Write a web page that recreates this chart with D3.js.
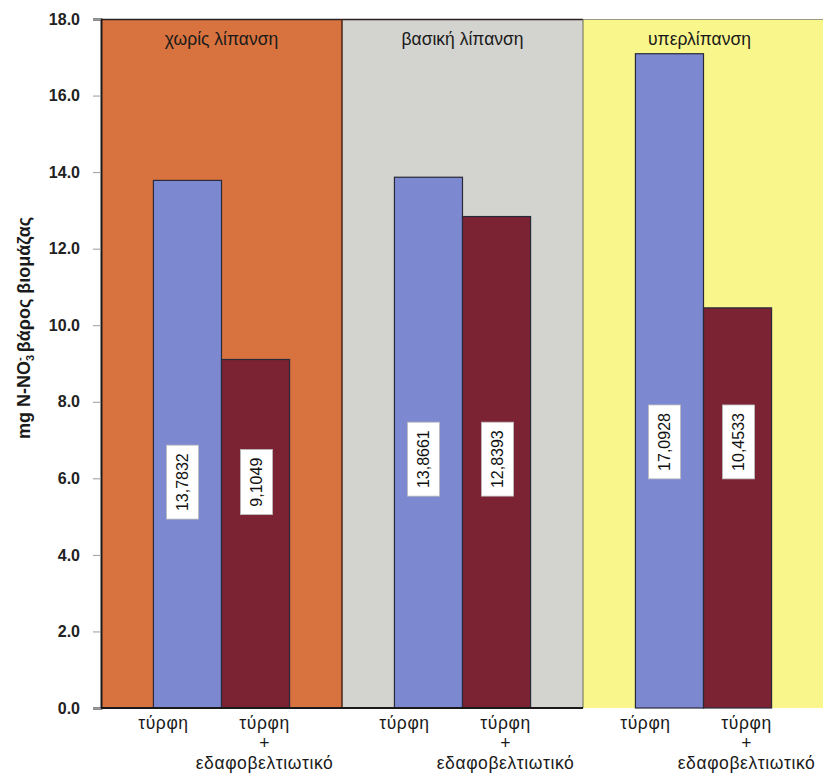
<!DOCTYPE html>
<html>
<head>
<meta charset="utf-8">
<script src="https://cdn.jsdelivr.net/npm/d3@7"></script>
<style>
  html, body { margin: 0; padding: 0; background: #ffffff; }
  svg { display: block; font-family: "Liberation Sans", Arial, sans-serif; }
</style>
</head>
<body>
<svg id="chart" width="823" height="777"></svg>
<script>
// Fertilisation regimes (panels) and substrate treatments (bars)
const groups = ["χωρίς λίπανση", "βασική λίπανση", "υπερλίπανση"];
const treatments = ["τύρφη", "τύρφη + εδαφοβελτιωτικό"];
const peatValues = [13.7832, 13.8661, 17.0928];
const peatAmendValues = [9.1049, 12.8393, 10.4533];
const valueLabels = [["13,7832", "9,1049"], ["13,8661", "12,8393"], ["17,0928", "10,4533"]];
const yTicks = [0, 2, 4, 6, 8, 10, 12, 14, 16, 18];
const tickLabels = ["0.0", "2.0", "4.0", "6.0", "8.0", "10.0", "12.0", "14.0", "16.0", "18.0"];

// Styling
const panelColors = ["#d8733f", "#d3d3cf", "#f9f68c"];
const barColors = ["#7c88cf", "#7b2233"];
const labelAnchor = [5.9, 6.5, 6.95]; // height (in data units) where the value boxes sit

const svg = d3.select("#chart");
const margin = { left: 101, right: 0, top: 19, bottom: 69 };
const W = 823, H = 777;
const plotRight = 823;
const y = d3.scaleLinear().domain([0, 18]).range([H - margin.bottom, margin.top]);

const gx = d3.scaleBand().domain(groups).range([margin.left, margin.left + 241 * 3]).padding(0);
const bx = d3.scaleBand().domain(treatments).range([0, gx.bandwidth()]).paddingInner(0).paddingOuter(0.77);

const rows = groups.map((g, i) => ({ group: g, i, vals: [peatValues[i], peatAmendValues[i]] }));

// Panel backgrounds
svg.selectAll("rect.panel").data(rows).join("rect")
  .attr("class", "panel")
  .attr("x", d => gx(d.group))
  .attr("y", y(18))
  .attr("width", d => d.i === 2 ? plotRight - gx(d.group) : gx.bandwidth())
  .attr("height", y(0) - y(18))
  .attr("fill", d => panelColors[d.i]);

// Panel borders
svg.append("line").attr("x1", margin.left).attr("x2", gx(groups[2])).attr("y1", y(18) + 0.5).attr("y2", y(18) + 0.5)
  .attr("stroke", "#2b2020").attr("stroke-width", 1.5);
svg.append("line").attr("x1", gx(groups[2])).attr("x2", plotRight).attr("y1", y(18) + 0.5).attr("y2", y(18) + 0.5)
  .attr("stroke", "#9a9a80").attr("stroke-width", 1);
svg.append("line").attr("x1", gx(groups[1])).attr("x2", gx(groups[1])).attr("y1", y(18)).attr("y2", y(0))
  .attr("stroke", "#4a2418").attr("stroke-width", 1.5);
svg.append("line").attr("x1", gx(groups[2])).attr("x2", gx(groups[2])).attr("y1", y(18)).attr("y2", y(0))
  .attr("stroke", "#6a6a5a").attr("stroke-width", 1);

// Panel titles
svg.selectAll("text.ptitle").data(rows).join("text")
  .attr("class", "ptitle")
  .attr("x", d => gx(d.group) + gx.bandwidth() / 2 + (d.i === 2 ? -4 : 0))
  .attr("y", 45)
  .attr("text-anchor", "middle")
  .attr("font-size", 17.5)
  .attr("fill", "#1a1a1a")
  .text(d => d.group);

// Bars
const bars = rows.flatMap(r => r.vals.map((v, j) => ({ group: r.group, gi: r.i, t: treatments[j], j, v, label: valueLabels[r.i][j] })));
svg.selectAll("rect.bar").data(bars).join("rect")
  .attr("class", "bar")
  .attr("x", d => gx(d.group) + bx(d.t))
  .attr("y", d => y(d.v))
  .attr("width", bx.bandwidth())
  .attr("height", d => y(0) - y(d.v))
  .attr("fill", d => barColors[d.j])
  .attr("stroke", "#2a2a3a")
  .attr("stroke-width", 1.2);

// Value boxes (rotated)
const lbl = svg.selectAll("g.vlabel").data(bars).join("g")
  .attr("class", "vlabel")
  .attr("transform", d => `translate(${gx(d.group) + bx(d.t) + bx.bandwidth() / 2 + (d.j === 0 ? -5 : 1)},${y(labelAnchor[d.gi])}) rotate(-90)`);
lbl.append("text")
  .attr("text-anchor", "middle")
  .attr("dy", "0.36em")
  .attr("font-size", 16)
  .attr("fill", "#111")
  .text(d => d.label);
lbl.each(function () {
  const g = d3.select(this);
  const bb = g.select("text").node().getBBox();
  g.insert("rect", "text")
    .attr("x", bb.x - 8)
    .attr("y", -16)
    .attr("width", bb.width + 16)
    .attr("height", 32)
    .attr("fill", "#ffffff")
    .attr("stroke", "#bbbbbb")
    .attr("stroke-width", 0.8);
});

// Y axis
const yAxis = d3.axisLeft(y).tickValues(yTicks).tickFormat((d, i) => tickLabels[i]).tickSize(8).tickPadding(13);
const ya = svg.append("g").attr("transform", `translate(${margin.left},0)`).call(yAxis);
ya.select(".domain").attr("stroke", "#1a1a1a").attr("stroke-width", 2);
ya.selectAll(".tick line").attr("stroke", "#999");
ya.selectAll(".tick text").attr("font-size", 16).attr("font-weight", "bold").attr("fill", "#222")
  .attr("font-family", "'Liberation Sans', Arial, sans-serif");

// Baseline
svg.append("line").attr("x1", margin.left).attr("x2", gx(groups[2])).attr("y1", y(0)).attr("y2", y(0))
  .attr("stroke", "#1a1a1a").attr("stroke-width", 2);

// Category labels
bars.forEach(d => {
  const cx = gx(d.group) + bx(d.t) + bx.bandwidth() / 2 + (d.j === 0 ? -24 : 9);
  const lines = d.j === 0 ? ["τύρφη"] : ["τύρφη", "+", "εδαφοβελτιωτικό"];
  const t = svg.append("text")
    .attr("y", 729)
    .attr("text-anchor", "middle")
    .attr("font-size", 17.5)
    .attr("letter-spacing", 0.6)
    .attr("fill", "#1a1a1a");
  lines.forEach((s, k) => t.append("tspan").attr("x", cx).attr("dy", k === 0 ? 0 : 20).text(s));
});

// Y axis title
const yt = svg.append("text")
  .attr("transform", `translate(30,328) rotate(-90)`)
  .attr("text-anchor", "middle")
  .attr("font-size", 18)
  .attr("font-weight", "bold")
  .attr("fill", "#1a1a1a");
yt.append("tspan").text("mg N-NO");
yt.append("tspan").attr("font-size", 11).attr("dy", 4).text("3");
yt.append("tspan").attr("font-size", 11).attr("dy", -11).attr("dx", -6).text("-");
yt.append("tspan").attr("dy", 7).text(" βάρος βιομάζας");
</script>
</body>
</html>
